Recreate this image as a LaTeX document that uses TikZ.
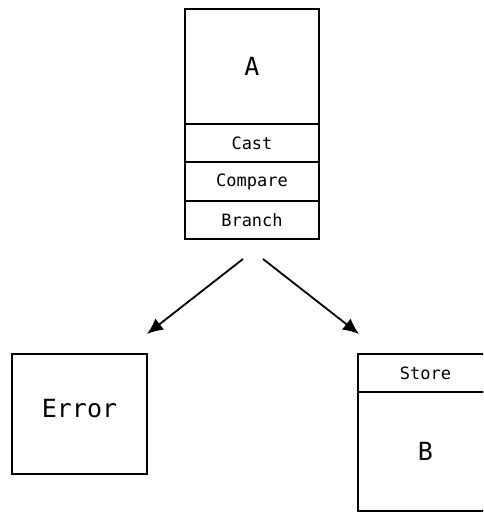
\documentclass[tikz,border=0pt]{standalone}
\usepackage{fontspec}
\setmonofont{DejaVu Sans Mono}
\usetikzlibrary{arrows.meta}

\begin{document}
\begin{tikzpicture}[x=1pt,y=-1pt,line width=1.8pt,
  cell/.style={draw,inner sep=0pt,minimum width=134pt,font=\ttfamily\fontsize{17}{17}\selectfont},
  bigcell/.style={cell,font=\ttfamily\fontsize{25}{25}\selectfont}]
\useasboundingbox (0,0) rectangle (483,512);
\clip (0,0) rectangle (483,512);

\node[bigcell,minimum height=115pt] (A) at (252,66.5) {A};
\node[cell,minimum height=38pt] (cast) at (252,143) {Cast};
\node[cell,minimum height=39pt] (compare) at (252,181.5) {Compare};
\node[cell,minimum height=38pt] (branch) at (252,220) {Branch};

\node[bigcell,minimum width=135pt,minimum height=120pt,text height=18pt,text depth=12pt] (error) at (79.5,414) {Error};

\node[cell,minimum width=135pt,minimum height=38pt] (store) at (425.5,373) {Store};
\node[bigcell,minimum width=135pt,minimum height=119pt] (B) at (425.5,451.5) {B};

\coordinate (l) at (243,259);
\coordinate (r) at (263,259);
\coordinate (le) at (147,334);
\coordinate (re) at (359,334);
\path[->,>={Latex[length=16pt,width=14pt]}] (l) edge (le) (r) edge (re);
\end{tikzpicture}
\end{document}
